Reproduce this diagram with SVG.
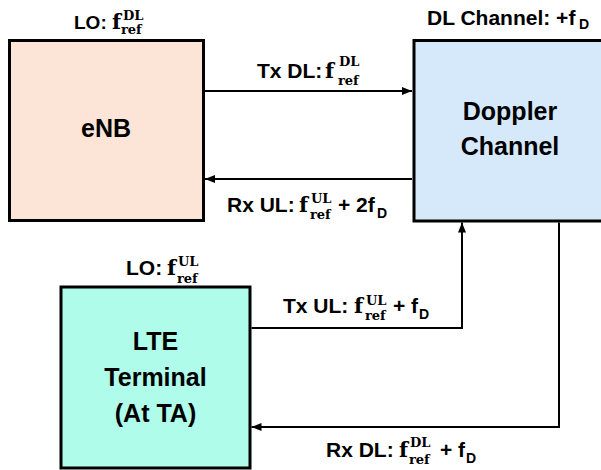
<svg xmlns="http://www.w3.org/2000/svg" width="601" height="470" viewBox="0 0 601 470">
<defs>
<style>
.box{stroke:#000;stroke-width:3}
.t{font-family:"Liberation Sans",Arial,sans-serif;font-weight:bold;fill:#000}
.big{font-size:25px}
.lbl{font-size:21px}
.m{font-family:"DejaVu Serif","Liberation Serif",serif;font-weight:bold;fill:#000}
.mf{font-size:21px}
.ms{font-size:13px}
.sub{font-size:14px}
.conn{fill:none;stroke:#000;stroke-width:2}
</style>
<marker id="ah" markerUnits="userSpaceOnUse" markerWidth="10" markerHeight="10" viewBox="0 0 10 10" refX="10" refY="5" orient="auto">
<path d="M0,1 L10,5 L0,9 Z" fill="#000"/>
</marker>
</defs>
<rect width="601" height="470" fill="#fff"/>

<g id="enb">
<rect class="box" x="9.5" y="40.5" width="194" height="180" fill="#fce4d6"/>
<text class="t big" x="106" y="137" text-anchor="middle">eNB</text>
<text class="t" x="74" y="29" font-size="19">LO:</text>
<text class="m mf" x="112" y="29">f</text>
<text class="m ms" x="123" y="20">DL</text>
<text class="m ms" x="121" y="34">ref</text>
</g>

<g id="doppler">
<rect class="box" x="414" y="40.5" width="200" height="180.5" fill="#d6e9fb"/>
<text class="t big" x="510" y="120" text-anchor="middle">Doppler</text>
<text class="t big" x="510" y="155" text-anchor="middle">Channel</text>
<text class="t lbl" x="427" y="25">DL Channel: +f</text>
<text class="t sub" x="579" y="29">D</text>
</g>

<g id="terminal">
<rect class="box" x="61" y="287" width="189" height="181" fill="#affcea"/>
<text class="t big" x="155.5" y="350" text-anchor="middle">LTE</text>
<text class="t big" x="155.5" y="386" text-anchor="middle">Terminal</text>
<text class="t big" x="155.5" y="422" text-anchor="middle">(At TA)</text>
<text class="t lbl" x="126" y="275">LO:</text>
<text class="m mf" x="167" y="275">f</text>
<text class="m ms" x="178" y="266">UL</text>
<text class="m ms" x="177" y="283">ref</text>
</g>

<g id="connectors">
<path class="conn" d="M205,91 H412" marker-end="url(#ah)"/>
<path class="conn" d="M412,179 H205" marker-end="url(#ah)"/>
<path class="conn" d="M251.5,328 H462 V222.5" marker-end="url(#ah)"/>
<path class="conn" d="M559,222.5 V427 H251.5" marker-end="url(#ah)"/>
</g>

<g id="labels">
<text class="t lbl" x="257" y="78">Tx DL:</text>
<text class="m mf" x="325" y="78">f</text>
<text class="m ms" x="339" y="66">DL</text>
<text class="m ms" x="338" y="85">ref</text>

<text class="t lbl" x="227" y="212">Rx UL:</text>
<text class="m mf" x="299" y="212">f</text>
<text class="m ms" x="311" y="203">UL</text>
<text class="m ms" x="310" y="219">ref</text>
<text class="t lbl" x="338" y="212">+ 2f</text>
<text class="t sub" x="377" y="218">D</text>

<text class="t lbl" x="283" y="313">Tx UL:</text>
<text class="m mf" x="354" y="313">f</text>
<text class="m ms" x="366" y="305">UL</text>
<text class="m ms" x="365" y="320">ref</text>
<text class="t lbl" x="393" y="313">+ f</text>
<text class="t sub" x="419" y="319">D</text>

<text class="t lbl" x="326" y="457">Rx DL:</text>
<text class="m mf" x="399" y="457">f</text>
<text class="m ms" x="410" y="447">DL</text>
<text class="m ms" x="409" y="464">ref</text>
<text class="t lbl" x="440" y="457">+ f</text>
<text class="t sub" x="466" y="463">D</text>
</g>
</svg>
